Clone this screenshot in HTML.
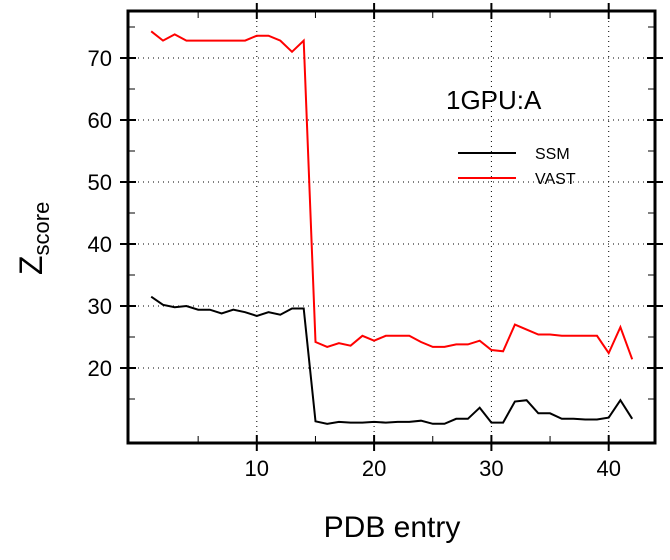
<!DOCTYPE html><html><head><style>body{margin:0;background:#fff}</style></head><body>
<svg id="s" width="670" height="555" xmlns="http://www.w3.org/2000/svg" font-family="Liberation Sans, sans-serif"></svg>
<script>
const s=document.getElementById('s');
const X=v=>139.5+11.73*v, Y=v=>492-6.2*v;
let h='';
const L=128,R=655,T=11,B=443;
for(let v=10;v<=40;v+=10)h+=`<line x1="${X(v)}" y1="${T}" x2="${X(v)}" y2="${B}" stroke="#000" stroke-dasharray="1,4"/>`;
for(let v=20;v<=70;v+=10)h+=`<line x1="${L}" y1="${Y(v)}" x2="${R}" y2="${Y(v)}" stroke="#000" stroke-dasharray="1,4"/>`;
for(let v=5;v<=40;v+=5){const big=v%10==0,x=X(v);
h+=`<line x1="${x}" y1="${B+(big?8:0)}" x2="${x}" y2="${B-(big?8:7)}" stroke="#000" stroke-width="${big?2:1}"/>`;
h+=`<line x1="${x}" y1="${T-(big?8:0)}" x2="${x}" y2="${T+(big?8:7)}" stroke="#000" stroke-width="${big?2:1}"/>`;
if(big)h+=`<text x="${x}" y="476" font-size="22" text-anchor="middle">${v}</text>`;}
for(let v=15;v<=75;v+=5){const big=v%10==0,y=Y(v);
h+=`<line x1="${L-(big?8:0)}" y1="${y}" x2="${L+(big?8:7)}" y2="${y}" stroke="#000" stroke-width="${big?2:1}"/>`;
h+=`<line x1="${R+(big?8:0)}" y1="${y}" x2="${R-(big?8:7)}" y2="${y}" stroke="#000" stroke-width="${big?2:1}"/>`;
if(big)h+=`<text x="112" y="${y+8}" font-size="22" text-anchor="end">${v}</text>`;}
h+=`<rect x="${L}" y="${T}" width="${R-L}" height="${B-T}" fill="none" stroke="#000" stroke-width="3"/>`;
const red=[74.3,72.8,73.8,72.8,72.8,72.8,72.8,72.8,72.8,73.6,73.6,72.8,71,72.8,24.2,23.4,24,23.6,25.2,24.4,25.2,25.2,25.2,24.2,23.4,23.4,23.8,23.8,24.4,22.9,22.7,27,26.2,25.4,25.4,25.2,25.2,25.2,25.2,22.4,26.6,21.4];
const blk=[31.5,30.2,29.8,30,29.4,29.4,28.8,29.4,29,28.4,29,28.6,29.6,29.6,11.4,11,11.3,11.2,11.2,11.3,11.2,11.3,11.3,11.5,11,11,11.8,11.8,13.6,11.2,11.2,14.6,14.8,12.7,12.7,11.8,11.8,11.7,11.7,12,14.8,11.8];
const pl=(d,c)=>`<polyline fill="none" stroke="${c}" stroke-width="2" points="${d.map((v,i)=>X(i+1).toFixed(1)+','+Y(v).toFixed(1)).join(' ')}"/>`;
h+=pl(blk,'#000')+pl(red,'#f00');
h+=`<text x="446" y="109" font-size="26">1GPU:A</text>`;
h+=`<line x1="458" y1="153" x2="516" y2="153" stroke="#000" stroke-width="2"/><text x="535" y="159" font-size="16">SSM</text>`;
h+=`<line x1="458" y1="178" x2="516" y2="178" stroke="#f00" stroke-width="2"/><text x="535" y="184" font-size="16">VAST</text>`;
h+=`<text x="392" y="537" font-size="30" text-anchor="middle">PDB entry</text>`;
h+=`<text transform="translate(42,275) rotate(-90)" font-size="32">Z<tspan font-size="22" dy="7">score</tspan></text>`;
s.innerHTML=h;
</script></body></html>
